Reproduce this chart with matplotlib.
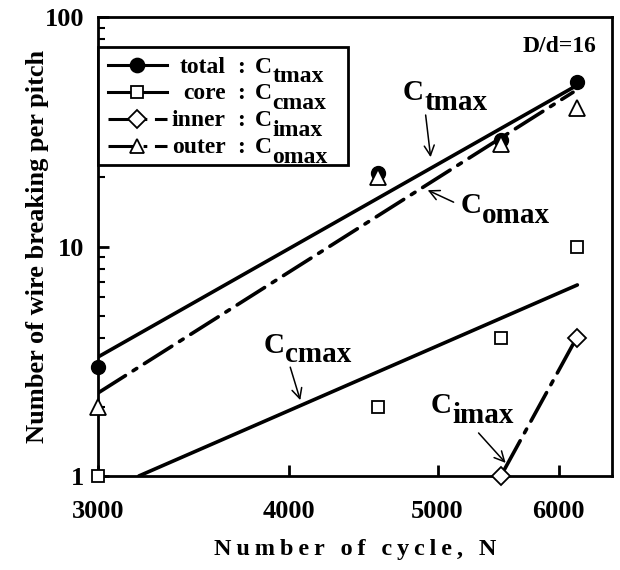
import numpy as np
import matplotlib
matplotlib.use('Agg')
import matplotlib.pyplot as plt
from matplotlib.lines import Line2D
from matplotlib.patches import Rectangle
from matplotlib.ticker import LogLocator, NullLocator, NullFormatter, FixedLocator, FixedFormatter

plt.rcParams['font.family'] = ['Liberation Serif', 'DejaVu Serif']
plt.rcParams['font.weight'] = 'bold'

# measured points
cycles = [3000, 4570, 5500, 6170]
total = [3.0, 21.0, 29.0, 52.0]
core = [1.0, 2.0, 4.0, 10.0]
outer = [2.0, 20.0, 28.0, 40.0]
inner_cycles = [5500, 6170]
inner = [1.0, 4.0]

# fitted lines (end points)
total_fit_x = [3000, 6170]
total_fit_y = [3.3, 50.5]
outer_fit_x = [3000, 6130]
outer_fit_y = [2.3, 47.0]
core_fit_x = [3190, 6170]
core_fit_y = [1.0, 6.8]
inner_fit_x = [5530, 6130]
inner_fit_y = [1.07, 3.75]

xticks = [3000, 4000, 5000, 6000]
yticks = [1, 10, 100]

fig = plt.figure(figsize=(6.2, 5.7), dpi=100)
ax = fig.add_axes([98/620, 1 - 476/570, 514/620, 459/570])
ax.set_xscale('log')
ax.set_yscale('log')
ax.set_xlim(3000, 6500)
ax.set_ylim(1, 100)

lw = 2.6
dashdot = (0, (9, 2.5, 1.2, 2.5))

ax.plot(total_fit_x, total_fit_y, color='black', lw=lw, solid_capstyle='round')
ax.plot(core_fit_x, core_fit_y, color='black', lw=lw, solid_capstyle='round')
ax.plot(outer_fit_x, outer_fit_y, color='black', lw=lw, linestyle=dashdot, dash_capstyle='round')
ax.plot(inner_fit_x, inner_fit_y, color='black', lw=lw, linestyle=dashdot, dash_capstyle='round')

ax.plot(cycles, total, 'o', color='black', ms=10, clip_on=False, zorder=4)
ax.plot(cycles, core, 's', mfc='white', mec='black', mew=1.3, ms=9, clip_on=False, zorder=5)
ax.plot(cycles, outer, '^', mfc='white', mec='black', mew=1.3, ms=11, clip_on=False, zorder=5)
ax.plot(inner_cycles, inner, 'D', mfc='white', mec='black', mew=1.3, ms=9, clip_on=False, zorder=5)

for s in ax.spines.values():
    s.set_linewidth(2)

ax.xaxis.set_major_locator(FixedLocator(xticks))
ax.xaxis.set_major_formatter(FixedFormatter([str(v) for v in xticks]))
ax.xaxis.set_minor_locator(NullLocator())
ax.yaxis.set_major_locator(FixedLocator(yticks))
ax.yaxis.set_major_formatter(FixedFormatter([str(v) for v in yticks]))
ax.yaxis.set_minor_locator(LogLocator(base=10, subs=np.arange(2, 10)))
ax.yaxis.set_minor_formatter(NullFormatter())
ax.tick_params(which='major', direction='in', length=8, width=2, labelsize=19)
ax.tick_params(axis='x', which='major', pad=17)
ax.tick_params(axis='y', which='major', pad=10)
ax.tick_params(which='minor', direction='in', length=5, width=1.5)

thin = '\u2009'
xlab = thin.join('Number of cycle, N')
ax.set_xlabel(xlab, fontsize=17.5, fontweight='bold', labelpad=12)
ax.set_ylabel('Number of wire breaking per pitch', fontsize=19, fontweight='bold')
ax.yaxis.set_label_coords(-0.095, 0.5)

ax.text(0.97, 0.935, 'D/d=16', transform=ax.transAxes, ha='right', va='center', fontsize=17)


def c_label(x, y, sub, size):
    # C with a same-size, lowered subscript
    t = ax.text(x, y, 'C', fontsize=size, ha='left', va='baseline')
    ax.annotate(sub, xy=(1, 0), xycoords=t, xytext=(0.5, -0.33 * size),
                textcoords='offset points', fontsize=size, ha='left', va='bottom')
    return t


def arrow(xy_from, xy_to):
    ax.annotate('', xy=xy_to, xytext=xy_from, xycoords='data', textcoords='data',
                arrowprops=dict(arrowstyle='->', lw=1.1, color='black',
                                mutation_scale=18, shrinkA=0, shrinkB=0))


# in-plot labels
c_label(4745, 43.5, 'tmax', 21)
c_label(5176, 14.0, 'omax', 21)
c_label(3847, 3.44, 'cmax', 21)
c_label(4948, 1.88, 'imax', 21)

arrow((4911, 37.4), (4948, 24.5))
arrow((5122, 15.6), (4926, 17.6))
arrow((4006, 2.98), (4067, 2.14))
arrow((5318, 1.54), (5539, 1.14))

# legend drawn by hand
box = Rectangle((0, 0.678), 0.486, 0.257, transform=ax.transAxes, fill=True,
                facecolor='white', edgecolor='black', lw=2, zorder=6, clip_on=False)
ax.add_patch(box)
rows = [0.895, 0.837, 0.778, 0.719]
names = ['total', 'core', 'inner', 'outer']
subs = ['tmax', 'cmax', 'imax', 'omax']
styles = [dict(marker='o', mfc='black', ls='-'),
          dict(marker='s', mfc='white', ls='-'),
          dict(marker='D', mfc='white', ls=dashdot),
          dict(marker='^', mfc='white', ls=dashdot)]
msizes = [10, 8, 9, 10]
for ry, nm, sb, st, msz in zip(rows, names, subs, styles, msizes):
    ax.add_line(Line2D([0.019, 0.134], [ry, ry], transform=ax.transAxes, color='black',
                       lw=2.2, ls=st['ls'], zorder=7, clip_on=False))
    ax.add_line(Line2D([0.076], [ry], transform=ax.transAxes, marker=st['marker'],
                       mfc=st['mfc'], mec='black', mew=1.3, ms=msz, ls='none',
                       zorder=8, clip_on=False))
    ax.text(0.248, ry - 0.016, nm, transform=ax.transAxes, ha='right', va='baseline',
            fontsize=17, zorder=8)
    ax.text(0.278, ry - 0.016, ':', transform=ax.transAxes, ha='center', va='baseline',
            fontsize=17, zorder=8)
    t = ax.text(0.305, ry - 0.016, 'C', transform=ax.transAxes, ha='left', va='baseline',
                fontsize=17, zorder=8)
    ax.annotate(sb, xy=(1, 0), xycoords=t, xytext=(0.5, -7),
                textcoords='offset points', fontsize=17, ha='left', va='bottom', zorder=9)

fig.savefig('out.png', dpi=100)
